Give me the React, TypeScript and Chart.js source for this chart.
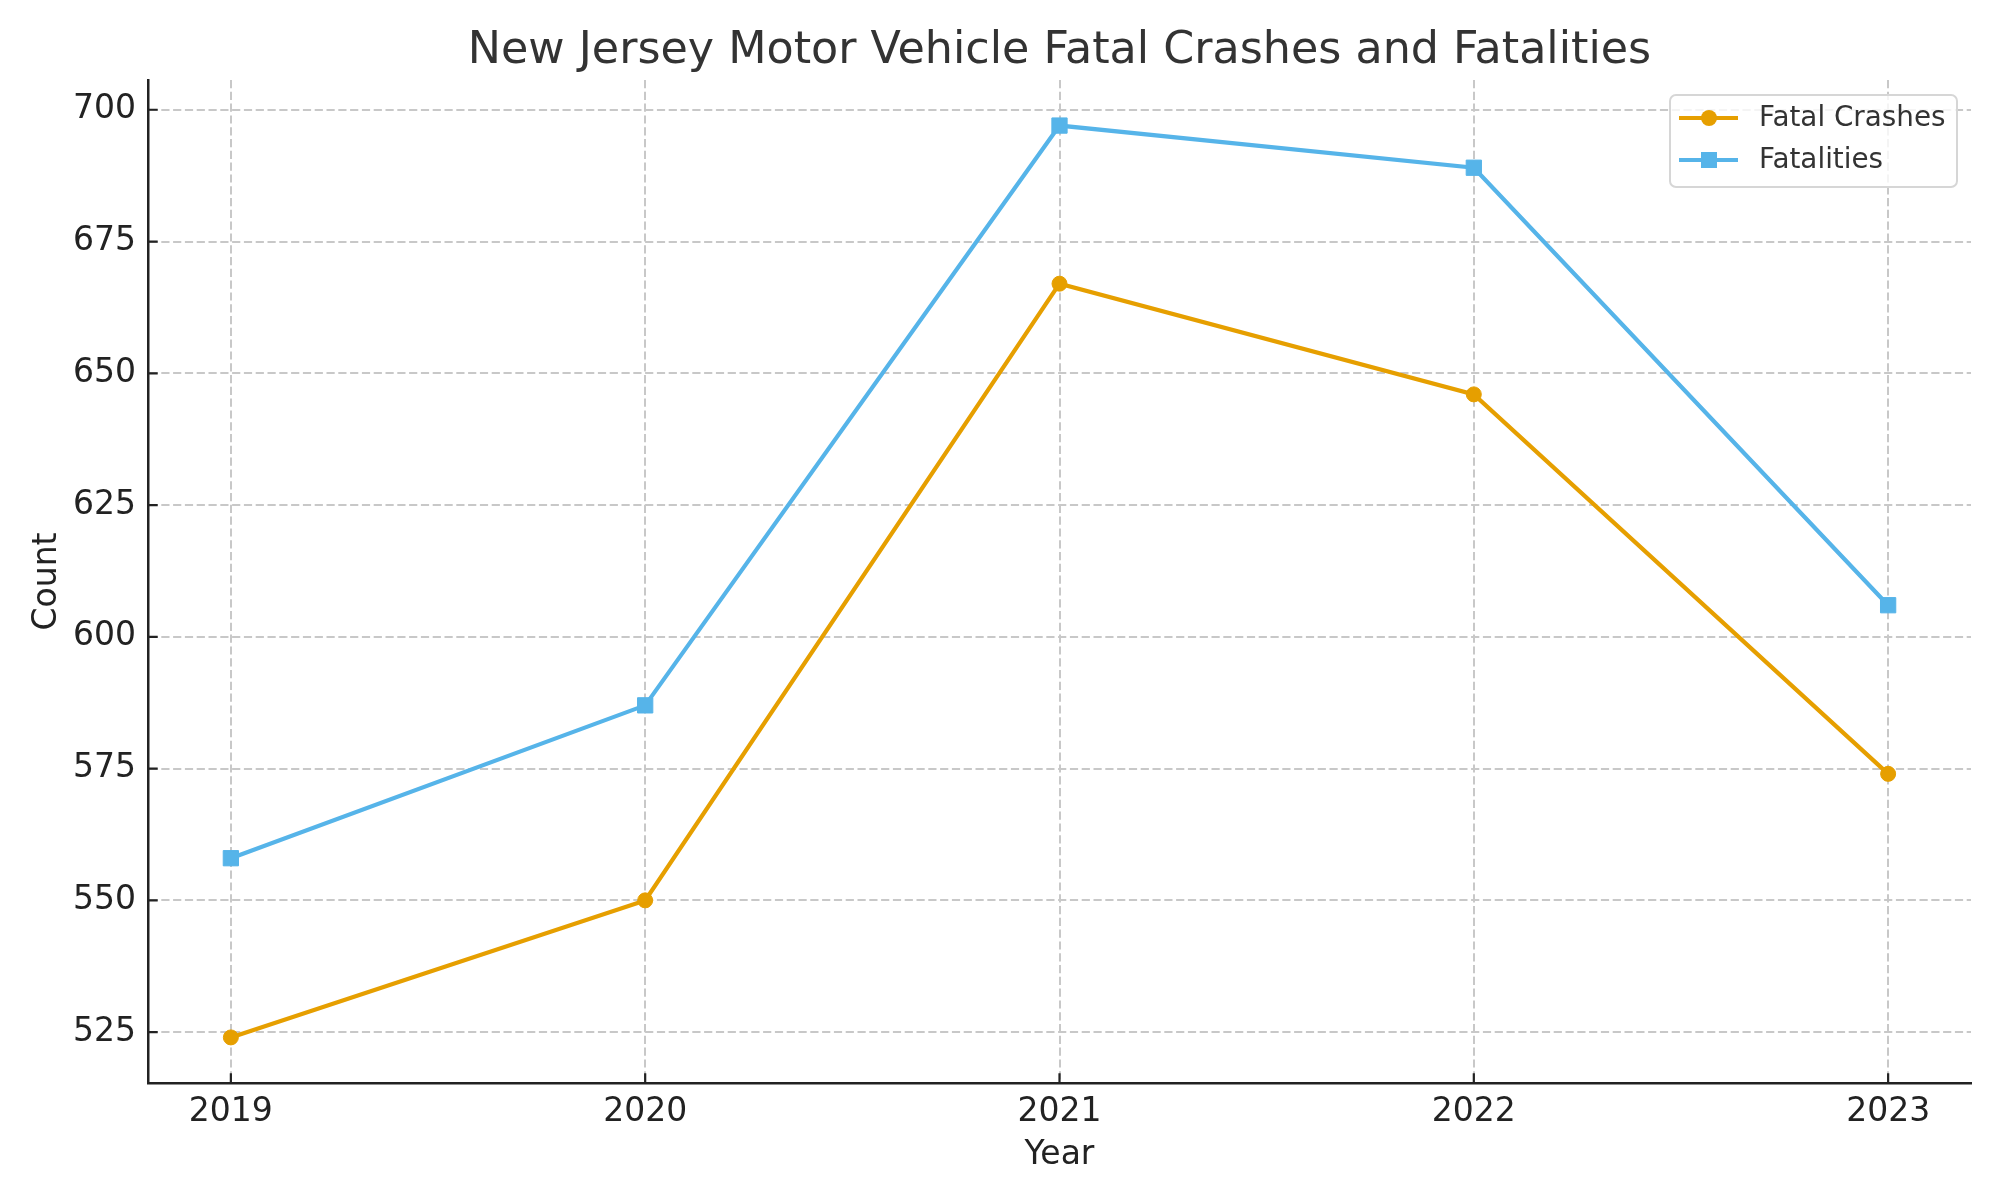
import { useEffect, useRef } from "react"
import { Chart, registerables, type Plugin } from "chart.js"
Chart.register(...registerables)

const YEARS = [2019, 2020, 2021, 2022, 2023]
const FATAL_CRASHES = [524, 550, 667, 646, 574]
const FATALITIES = [558, 587, 697, 689, 606]
const Y_TICKS = [525, 550, 575, 600, 625, 650, 675, 700]

const FONT = "'DejaVu Sans', sans-serif"
const ORANGE = "#E69F00"
const BLUE = "#56B4E9"
const INK = "#222222"

// inward tick marks + matplotlib-style legend box
const decorations: Plugin<"line"> = {
  id: "decorations",
  afterDatasetsDraw(chart) {
    const { ctx, chartArea, scales } = chart
    const xs = scales.x
    const ys = scales.y
    ctx.save()
    ctx.strokeStyle = INK
    ctx.lineWidth = 2.2
    ctx.beginPath()
    xs.ticks.forEach((t) => {
      const px = xs.getPixelForValue(t.value)
      ctx.moveTo(px, chartArea.bottom)
      ctx.lineTo(px, chartArea.bottom - 9.7)
    })
    ys.ticks.forEach((t) => {
      const py = ys.getPixelForValue(t.value)
      ctx.moveTo(chartArea.left, py)
      ctx.lineTo(chartArea.left + 9.7, py)
    })
    ctx.stroke()

    // legend
    const bx = 1670, by = 95, bw = 287, bh = 92
    ctx.beginPath()
    ctx.roundRect(bx, by, bw, bh, 6)
    ctx.fillStyle = "rgba(255,255,255,0.8)"
    ctx.fill()
    ctx.strokeStyle = "#d6d6d6"
    ctx.lineWidth = 2
    ctx.stroke()

    ctx.font = `27.8px ${FONT}`
    ctx.textBaseline = "middle"
    ctx.textAlign = "left"
    chart.data.datasets.forEach((ds, i) => {
      const cy = 118 + i * 42
      const color = ds.borderColor as string
      ctx.strokeStyle = color
      ctx.lineWidth = 4.2
      ctx.beginPath()
      ctx.moveTo(1679, cy)
      ctx.lineTo(1738, cy)
      ctx.stroke()
      ctx.fillStyle = color
      ctx.beginPath()
      if ((ds as any).pointStyle === "rect") ctx.rect(1709 - 8, cy - 8, 16, 16)
      else ctx.arc(1709, cy, 8, 0, Math.PI * 2)
      ctx.fill()
      ctx.fillStyle = "#333333"
      ctx.fillText(String(ds.label), 1759, cy + 1)
    })
    ctx.restore()
  },
}

export default function App() {
  const canvasRef = useRef<HTMLCanvasElement>(null)
  const chartRef = useRef<Chart<"line"> | null>(null)

  useEffect(() => {
    document.body.style.margin = "0"
    const canvas = canvasRef.current
    if (!canvas) return
    chartRef.current?.destroy()

    const tickFont = { family: FONT, size: 33 }

    chartRef.current = new Chart(canvas, {
      type: "line",
      data: {
        datasets: [
          {
            label: "Fatal Crashes",
            data: YEARS.map((x, i) => ({ x, y: FATAL_CRASHES[i] })),
            borderColor: ORANGE,
            backgroundColor: ORANGE,
            borderWidth: 4.2,
            pointStyle: "circle",
            pointRadius: 7.5,
            pointBorderWidth: 1,
            tension: 0,
          },
          {
            label: "Fatalities",
            data: YEARS.map((x, i) => ({ x, y: FATALITIES[i] })),
            borderColor: BLUE,
            backgroundColor: BLUE,
            borderWidth: 4.2,
            pointStyle: "rect",
            pointRadius: 10.8,
            pointBorderWidth: 1,
            tension: 0,
          },
        ],
      },
      options: {
        responsive: false,
        devicePixelRatio: 1,
        animation: false,
        layout: { padding: { left: 0, right: 29, top: 0, bottom: 0 } },
        plugins: {
          legend: { display: false },
          tooltip: { enabled: false },
          title: {
            display: true,
            text: "New Jersey Motor Vehicle Fatal Crashes and Fatalities",
            fullSize: false,
            color: "#333333",
            font: { family: FONT, size: 44.4, weight: "normal", lineHeight: 1.2 },
            padding: { top: 24.4, bottom: 2.3 },
          },
        },
        scales: {
          x: {
            type: "linear",
            min: 2018.8,
            max: 2023.2,
            afterBuildTicks: (s) => { s.ticks = YEARS.map((value) => ({ value })) },
            afterFit: (s) => { s.height = 117 },
            ticks: {
              callback: (v) => String(v),
              color: INK,
              font: tickFont,
              padding: 10,
              maxRotation: 0,
              autoSkip: false,
            },
            grid: { color: "#c8c8c8", lineWidth: 2, drawTicks: false },
            border: { display: true, color: INK, width: 2.5, dash: [8.2, 3.6] },
            title: {
              display: true,
              text: "Year",
              color: INK,
              font: { family: FONT, size: 33, lineHeight: 1.2 },
              padding: { top: 0, bottom: 24.5 },
            },
          },
          y: {
            type: "linear",
            min: 515.35,
            max: 705.65,
            afterBuildTicks: (s) => { s.ticks = Y_TICKS.map((value) => ({ value })) },
            afterFit: (s) => { s.width = 148 },
            ticks: { color: INK, font: tickFont, padding: 12 },
            grid: { color: "#c8c8c8", lineWidth: 2, drawTicks: false },
            border: { display: true, color: INK, width: 2.5, dash: [8.2, 3.6] },
            title: {
              display: true,
              text: "Count",
              color: INK,
              font: { family: FONT, size: 33, lineHeight: 1.2 },
              padding: { top: 28, bottom: 0 },
            },
          },
        },
      },
      plugins: [decorations],
    })

    return () => { chartRef.current?.destroy() }
  }, [])

  return (
    <div style={{ width: 2000, height: 1200, background: "#ffffff" }}>
      <canvas ref={canvasRef} width={2000} height={1200} role="img" aria-label="Line chart of New Jersey fatal crashes and fatalities" />
    </div>
  )
}
